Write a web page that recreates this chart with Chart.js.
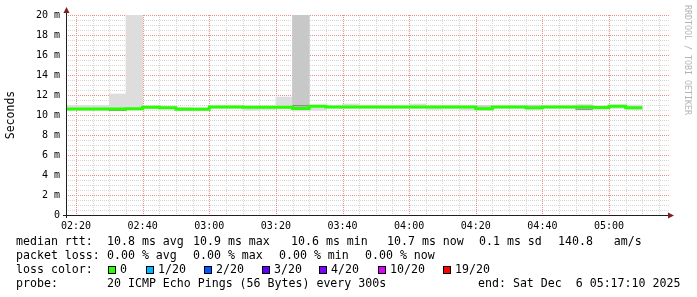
<!DOCTYPE html>
<html>
<head>
<meta charset="utf-8">
<script src="https://cdn.jsdelivr.net/npm/chart.js@4.4.1/dist/chart.umd.min.js"></script>
<style>
    body { margin: 0; background: #fff; }
    #wrap { position: relative; width: 697px; height: 297px; background: #fff; overflow: hidden; }
    #smokeChart { position: absolute; left: 0; top: 0; }
    .t { position: absolute; font-family: "DejaVu Sans Mono", monospace; font-size: 11.6px; line-height: 14px; white-space: pre; color: #000; }
    .box { position: absolute; top: 266px; width: 8px; height: 8px; box-sizing: border-box; border: 1px solid #000; }
    #credit { position: absolute; left: 683px; top: 5px; font-family: "DejaVu Sans Mono", monospace; font-size: 8.3px; line-height: 10px; color: #b4b4b4; writing-mode: vertical-rl; white-space: pre; }
</style>
</head>
<body>
<div id="wrap">
    <canvas id="smokeChart" width="697" height="235"></canvas>
    <div id="credit">RRDTOOL / TOBI OETIKER</div>

    <div class="t" style="left:16px;top:234px">median rtt:</div>
    <div class="t" style="left:107px;top:234px">10.8 ms avg</div>
    <div class="t" style="left:193px;top:234px">10.9 ms max</div>
    <div class="t" style="left:291px;top:234px">10.6 ms min</div>
    <div class="t" style="left:387px;top:234px">10.7 ms now</div>
    <div class="t" style="left:479px;top:234px">0.1 ms sd</div>
    <div class="t" style="left:558px;top:234px">140.8   am/s</div>

    <div class="t" style="left:16px;top:248px">packet loss:</div>
    <div class="t" style="left:107px;top:248px">0.00 % avg</div>
    <div class="t" style="left:193px;top:248px">0.00 % max</div>
    <div class="t" style="left:279px;top:248px">0.00 % min</div>
    <div class="t" style="left:365px;top:248px">0.00 % now</div>

    <div class="t" style="left:16px;top:262px">loss color:</div>
    <div id="lossLegend"></div>

    <div class="t" style="left:16px;top:276px">probe:</div>
    <div class="t" style="left:107px;top:276px">20 ICMP Echo Pings (56 Bytes) every 300s</div>
    <div class="t" style="left:478px;top:276px">end: Sat Dec  6 05:17:10 2025</div>
</div>

<script>
// 5 minute bins, start time in minutes after midnight (02:15 ... 05:05)
const binStart = [135, 140, 145, 150, 155, 160, 165, 170, 175, 180,
    185, 190, 195, 200, 205, 210, 215, 220, 225, 230,
    235, 240, 245, 250, 255, 260, 265, 270, 275, 280,
    285, 290, 295, 300, 305];
const binMinutes = 5;

// median rtt, ms
const medianRtt = [10.60, 10.60, 10.60, 10.61, 10.62, 10.78, 10.72, 10.58, 10.57, 10.80,
    10.80, 10.78, 10.78, 10.78, 10.66, 10.88, 10.80, 10.80, 10.80, 10.80,
    10.80, 10.80, 10.80, 10.80, 10.80, 10.63, 10.80, 10.80, 10.72, 10.80,
    10.80, 10.80, 10.75, 10.88, 10.72];

// smoke: range of all pings (light)
const smokeLo = [10.45, 10.45, 10.45, 10.45, 10.50, 10.60, 10.60, 10.45, 10.45, 10.65,
    10.65, 10.45, 10.55, 10.60, 10.40, 10.45, 10.65, 10.65, 10.65, 10.65,
    10.65, 10.65, 10.55, 10.60, 10.50, 10.50, 10.65, 10.65, 10.55, 10.65,
    10.65, 10.50, 10.55, 10.65, 10.55];
const smokeHi = [10.95, 10.95, 10.95, 12.10, 20.00, 10.92, 10.88, 10.75, 10.72, 10.92,
    10.92, 10.90, 10.90, 11.80, 20.00, 10.98, 10.92, 11.10, 10.95, 10.95,
    10.95, 11.10, 10.92, 10.95, 10.92, 10.95, 10.92, 10.92, 11.00, 10.92,
    10.92, 11.05, 10.95, 11.00, 11.00];

// denser smoke (mid gray)
const midLo = [null, null, null, 10.45, null, null, null, 10.50, null, null,
    null, null, null, null, 10.85, null, null, null, null, null,
    null, null, null, null, null, 10.60, null, null, 10.60, null,
    null, 10.55, null, null, null];
const midHi = [null, null, null, 10.65, null, null, null, 10.70, null, null,
    null, null, null, null, 20.00, null, null, null, null, null,
    null, null, null, null, null, 10.92, null, null, 10.95, null,
    null, 10.90, null, null, null];

// darkest smoke strips
const darkLo = [null, null, null, 10.44, null, null, null, null, null, null,
    null, null, null, null, 10.90, null, null, null, null, null,
    null, null, null, null, null, null, null, null, null, null,
    null, 10.55, null, null, null];
const darkHi = [null, null, null, 10.49, null, null, null, null, null, null,
    null, null, null, null, 10.96, null, null, null, null, null,
    null, null, null, null, null, null, null, null, null, null,
    null, 10.60, null, null, null];

const lossLabels = ["0", "1/20", "2/20", "3/20", "4/20", "10/20", "19/20"];
const lossColors = ["#26ff00", "#00b8ff", "#0059ff", "#5e00ff", "#7e00ff", "#dd00ff", "#ff0000"];
const lossBoxX = [108, 146, 204, 262, 319, 378, 443];

// loss colour legend
const lossLegend = document.getElementById("lossLegend");
lossLabels.forEach((label, i) => {
    const box = document.createElement("div");
    box.className = "box";
    box.style.left = lossBoxX[i] + "px";
    box.style.background = lossColors[i];
    lossLegend.appendChild(box);
    const txt = document.createElement("div");
    txt.className = "t";
    txt.style.left = (lossBoxX[i] + 12) + "px";
    txt.style.top = "262px";
    txt.innerText = label;
    lossLegend.appendChild(txt);
});

function hhmm(v) {
    const h = Math.floor(v / 60), m = v % 60;
    return String(h).padStart(2, "0") + ":" + String(m).padStart(2, "0");
}

function ranges(lo, hi) {
    const out = [];
    binStart.forEach((t, i) => {
        if (lo[i] !== null) out.push({ x: t + binMinutes / 2, y: [lo[i], hi[i]] });
    });
    return out;
}

const medianPoints = binStart.map((t, i) => ({ x: t, y: medianRtt[i] }));
medianPoints.push({ x: binStart[binStart.length - 1] + binMinutes, y: medianRtt[medianRtt.length - 1] });

const barBase = {
    type: "bar",
    grouped: false,
    barPercentage: 1,
    categoryPercentage: 1,
    borderWidth: 0,
    clip: 0
};

const minorGrid = "rgb(214,214,214)";
const majorGrid = "rgb(236,140,140)";

// dotted rrdtool grid, drawn from the scale ticks
const rrdGrid = {
    id: "rrdGrid",
    beforeDatasetsDraw(chart) {
        const { ctx, chartArea: a, scales: { x, y } } = chart;
        ctx.save();
        [false, true].forEach(major => {
            ctx.fillStyle = major ? majorGrid : minorGrid;
            x.ticks.forEach(t => {
                if ((Math.round(t.value) % 20 === 0) !== major) return;
                const px = Math.round(x.getPixelForValue(t.value));
                for (let py = a.top; py < a.bottom; py += 2) ctx.fillRect(px, py, 1, 1);
            });
            y.ticks.forEach(t => {
                if ((Math.abs(t.value % 2) < 1e-6) !== major) return;
                const py = Math.round(y.getPixelForValue(t.value));
                for (let px = a.left; px < a.right; px += 2) ctx.fillRect(px, py, 1, 1);
            });
        });
        ctx.restore();
    }
};

// axis lines with rrdtool style arrows
const rrdAxes = {
    id: "rrdAxes",
    afterDatasetsDraw(chart) {
        const { ctx, chartArea: a } = chart;
        const x0 = a.left + 0.5, y0 = a.bottom + 0.5;
        ctx.save();
        ctx.strokeStyle = "#1f1f1f";
        ctx.lineWidth = 1;
        ctx.beginPath();
        ctx.moveTo(x0, a.bottom + 3);
        ctx.lineTo(x0, a.top - 3);
        ctx.moveTo(a.left - 3, y0);
        ctx.lineTo(a.right, y0);
        ctx.stroke();
        ctx.fillStyle = "#801f1f";
        ctx.beginPath();
        ctx.moveTo(x0, a.top - 8);
        ctx.lineTo(x0 - 3, a.top - 2);
        ctx.lineTo(x0 + 3, a.top - 2);
        ctx.closePath();
        ctx.fill();
        ctx.beginPath();
        ctx.moveTo(a.right + 5, y0);
        ctx.lineTo(a.right - 1, y0 - 3);
        ctx.lineTo(a.right - 1, y0 + 3);
        ctx.closePath();
        ctx.fill();
        ctx.restore();
    }
};

const tickFont = { family: "DejaVu Sans Mono", size: 10 };

new Chart(document.getElementById("smokeChart"), {
    type: "bar",
    data: {
        datasets: [
            {
                type: "line",
                data: medianPoints,
                borderColor: "#26ff00",
                borderWidth: 3,
                stepped: "before",
                pointRadius: 0,
                fill: false,
                clip: 0,
                order: 0
            },
            Object.assign({}, barBase, { data: ranges(darkLo, darkHi), backgroundColor: "#8a8a8a", order: 1 }),
            Object.assign({}, barBase, { data: ranges(midLo, midHi), backgroundColor: "#c8c8c8", order: 2 }),
            Object.assign({}, barBase, { data: ranges(smokeLo, smokeHi), backgroundColor: "#dddddd", order: 3 })
        ]
    },
    options: {
        responsive: false,
        animation: false,
        devicePixelRatio: 1,
        layout: { padding: { top: 15, right: 28, left: 0, bottom: 0 } },
        plugins: {
            legend: { display: false },
            tooltip: { enabled: false }
        },
        scales: {
            x: {
                type: "linear",
                min: 137,
                max: 318,
                offset: false,
                grid: { display: false, offset: false, drawTicks: false },
                border: { display: false },
                ticks: {
                    stepSize: 5,
                    includeBounds: false,
                    autoSkip: false,
                    maxRotation: 0,
                    padding: 5,
                    color: "#000",
                    font: tickFont,
                    callback: v => v % 20 === 0 ? hhmm(v) : ""
                },
                afterFit: s => { s.height = 20; }
            },
            y: {
                min: 0,
                max: 20,
                grid: { display: false, drawTicks: false },
                border: { display: false },
                ticks: {
                    stepSize: 0.5,
                    autoSkip: false,
                    padding: 6,
                    color: "#000",
                    font: tickFont,
                    callback: v => v % 2 === 0 ? (v === 0 ? "0" : v + " m") : ""
                },
                title: {
                    display: true,
                    text: "Seconds",
                    color: "#000",
                    font: { family: "DejaVu Sans Mono", size: 11.5 }
                },
                afterFit: s => { s.width = 66; }
            }
        }
    },
    plugins: [rrdGrid, rrdAxes]
});
</script>
</body>
</html>
